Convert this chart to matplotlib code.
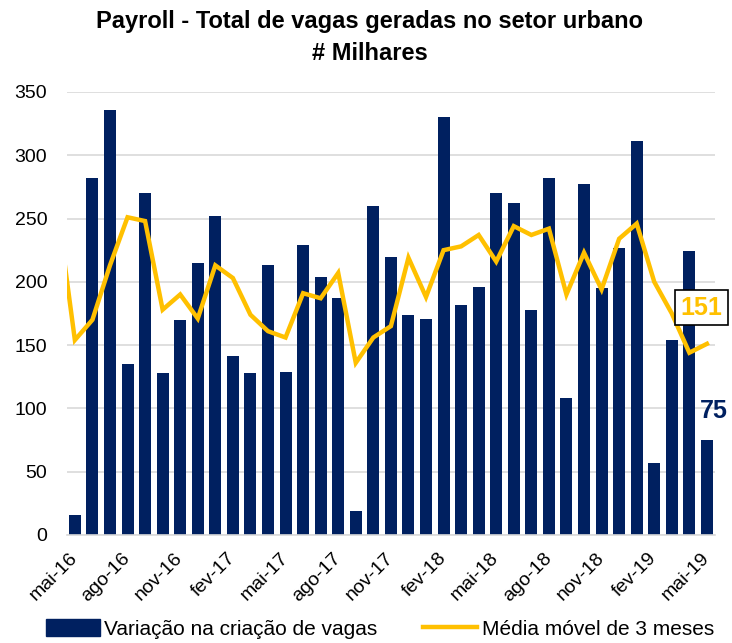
import numpy as np
import matplotlib
matplotlib.use("Agg")
import matplotlib.pyplot as plt
from matplotlib.patches import Patch
from matplotlib.lines import Line2D

plt.rcParams['font.family'] = ['Liberation Sans', 'DejaVu Sans']

# Monthly payroll, thousands (mai-16 .. mai-19)
months = ['mai-16', 'jun-16', 'jul-16', 'ago-16', 'set-16', 'out-16', 'nov-16', 'dez-16',
          'jan-17', 'fev-17', 'mar-17', 'abr-17', 'mai-17', 'jun-17', 'jul-17', 'ago-17',
          'set-17', 'out-17', 'nov-17', 'dez-17', 'jan-18', 'fev-18', 'mar-18', 'abr-18',
          'mai-18', 'jun-18', 'jul-18', 'ago-18', 'set-18', 'out-18', 'nov-18', 'dez-18',
          'jan-19', 'fev-19', 'mar-19', 'abr-19', 'mai-19']
vagas = [16, 282, 336, 135, 270, 128, 170, 215, 252, 141, 128, 213, 129, 229, 204, 187,
         19, 260, 220, 174, 171, 330, 182, 196, 270, 262, 178, 282, 108, 277, 195, 227,
         311, 57, 154, 224, 75]
# 3-month moving average, starting one month earlier (abr-16, partly off the axis)
media_movel = [258, 154, 170, 213, 251, 248, 178, 190, 171, 213, 203, 174, 161, 156, 191,
               187, 207, 136, 156, 165, 219, 188, 225, 228, 237, 216, 244, 237, 242, 190,
               223, 194, 234, 246, 200, 175, 144, 151]

NAVY = '#002060'
GOLD = '#FFC000'

fig = plt.figure(figsize=(7.32, 6.43), dpi=100)
ax = fig.add_axes([0.091, 0.168, 0.886, 0.689])

x = np.arange(len(months))
ax.bar(x, vagas, width=0.68, color=NAVY, zorder=2)
x_line = np.arange(-1, len(months))
ax.plot(x_line, media_movel, color=GOLD, lw=3.2, zorder=3, solid_joinstyle='miter')

ax.set_xlim(-0.47, len(months) - 0.53)
ax.set_ylim(0, 350)
ax.set_yticks(range(0, 351, 50))
ax.yaxis.grid(True, color='#D9D9D9', lw=1.2, zorder=0)
ax.set_axisbelow(True)
for s in ['top', 'right', 'left']:
    ax.spines[s].set_visible(False)
ax.spines['bottom'].set_color('#D9D9D9')
ax.spines['bottom'].set_linewidth(1.2)
ax.tick_params(axis='both', length=0, labelsize=14, colors='black')
ax.tick_params(axis='y', pad=14)

ax.set_xticks(x[::3])
ax.set_xticklabels(months[::3], rotation=45, ha='right', va='center',
                   rotation_mode='anchor')
ax.tick_params(axis='x', pad=15)

# end labels
ax.text(35.7, 179.5, str(media_movel[-1]), color=GOLD, fontsize=18, fontweight='bold',
        ha='center', va='center', zorder=5, clip_on=False,
        bbox=dict(boxstyle='square,pad=0.22', fc='white', ec='black', lw=1.2))
ax.text(36.4, 98, str(vagas[-1]), color=NAVY, fontsize=18, fontweight='bold',
        ha='center', va='center', zorder=5, clip_on=False)

fig.text(0.505, 0.967, 'Payroll - Total de vagas geradas no setor urbano',
         ha='center', va='center', fontsize=17, fontweight='bold')
fig.text(0.505, 0.917, '# Milhares', ha='center', va='center', fontsize=17,
         fontweight='bold')

handles = [Patch(facecolor=NAVY, edgecolor=NAVY),
           Line2D([0], [0], color=GOLD, lw=3.2)]
fig.legend(handles, ['Variação na criação de vagas', 'Média móvel de 3 meses'],
           loc='center', bbox_to_anchor=(0.519, 0.022), ncol=2, frameon=False,
           fontsize=15, handlelength=2.6, handleheight=0.9, handletextpad=0.2,
           columnspacing=2.2, borderpad=0.0)

fig.savefig('out.png', dpi=100)
